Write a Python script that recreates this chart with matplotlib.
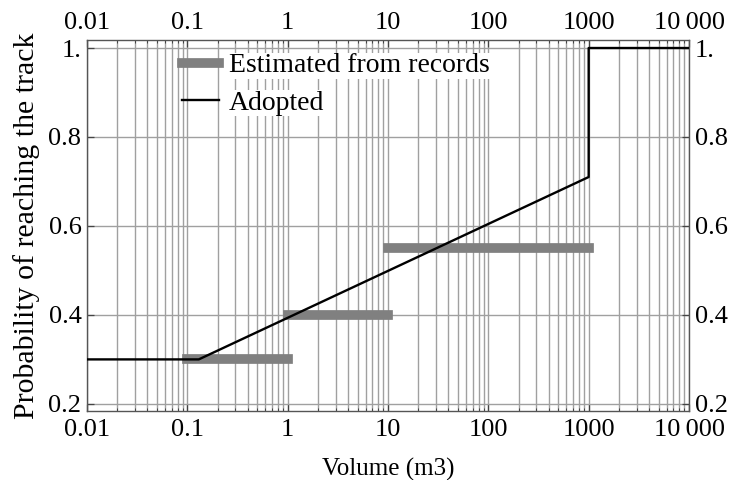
import numpy as np
import matplotlib
matplotlib.use("Agg")
import matplotlib.pyplot as plt
from matplotlib.ticker import FixedLocator, FixedFormatter, LogLocator, NullFormatter

plt.rcParams["font.family"] = ["Liberation Serif", "DejaVu Serif"]
plt.rcParams["font.size"] = 18

# adopted curve
adopted_x = [0.01, 0.13, 1000, 1000, 10000]
adopted_y = [0.30, 0.30, 0.71, 1.00, 1.00]

# estimated from records (volume ranges and probability)
est_lo = [0.1, 1, 10]
est_hi = [1, 10, 1000]
est_p = [0.30, 0.40, 0.55]

x_ticks = [0.01, 0.1, 1, 10, 100, 1000, 10000]
x_labels = ["0.01", "0.1", "1", "10", "100", "1000", "10\u2009000"]
y_ticks = [0.2, 0.4, 0.6, 0.8, 1.0]
y_labels = ["0.2", "0.4", "0.6", "0.8", "1."]

fig = plt.figure(figsize=(7.32, 4.8), dpi=100)
ax = fig.add_axes([87 / 732, 1 - 411 / 480, (689 - 87) / 732, (411 - 40) / 480])

ax.set_xscale("log")
ax.set_xlim(0.01, 10000)
ax.set_ylim(0.184, 1.018)

# grid: all decades + minor lines vertically, major horizontally
ax.xaxis.set_major_locator(FixedLocator(x_ticks))
ax.xaxis.set_major_formatter(FixedFormatter(x_labels))
ax.xaxis.set_minor_locator(LogLocator(base=10, subs=np.arange(2, 10)))
ax.xaxis.set_minor_formatter(NullFormatter())
ax.yaxis.set_major_locator(FixedLocator(y_ticks))
ax.yaxis.set_major_formatter(FixedFormatter(y_labels))

ax.grid(True, which="major", axis="both", color="#a0a0a0", lw=1.0)
ax.grid(True, which="minor", axis="x", color="#a0a0a0", lw=1.0)
ax.set_axisbelow(True)

for i in range(len(est_p)):
    ax.plot([est_lo[i], est_hi[i]], [est_p[i], est_p[i]], color="#808080", lw=7,
            solid_capstyle="projecting",
            label="Estimated from records" if i == 0 else None, zorder=3)
ax.plot(adopted_x, adopted_y, color="black", lw=1.7, label="Adopted", zorder=4)

ax.tick_params(which="both", direction="in", top=True, right=True,
               labelright=True, color="#444444", labelsize=19)
ax.tick_params(which="major", length=5, width=0.9, pad=4)
ax.tick_params(axis="x", which="major", pad=6)
ax.tick_params(which="minor", length=2.5, width=0.7)
for s in ax.spines.values():
    s.set_color("#555555")
    s.set_linewidth(1.0)

# top labels on a twin axis so they can sit closer to the frame
top = ax.secondary_xaxis("top")
top.xaxis.set_major_locator(FixedLocator(x_ticks))
top.xaxis.set_major_formatter(FixedFormatter(x_labels))
top.xaxis.set_minor_locator(LogLocator(base=10, subs=np.arange(2, 10)))
top.xaxis.set_minor_formatter(NullFormatter())
top.tick_params(which="both", direction="in", length=0, labelsize=19, pad=4)
top.spines["top"].set_visible(False)

ax.set_xlabel("Volume (m3)", fontsize=18, labelpad=12)
ax.set_ylabel("Probability of reaching the track", fontsize=21.5, labelpad=6)

leg = ax.legend(loc="upper left", bbox_to_anchor=(0.157, 0.965), frameon=False,
                handlelength=1.35, handletextpad=0.35, labelspacing=0.42,
                borderaxespad=0, borderpad=0, fontsize=20)
for t in leg.get_texts():
    t.set_bbox(dict(facecolor="white", edgecolor="none", pad=0.5))

fig.savefig("out.png", dpi=100)
